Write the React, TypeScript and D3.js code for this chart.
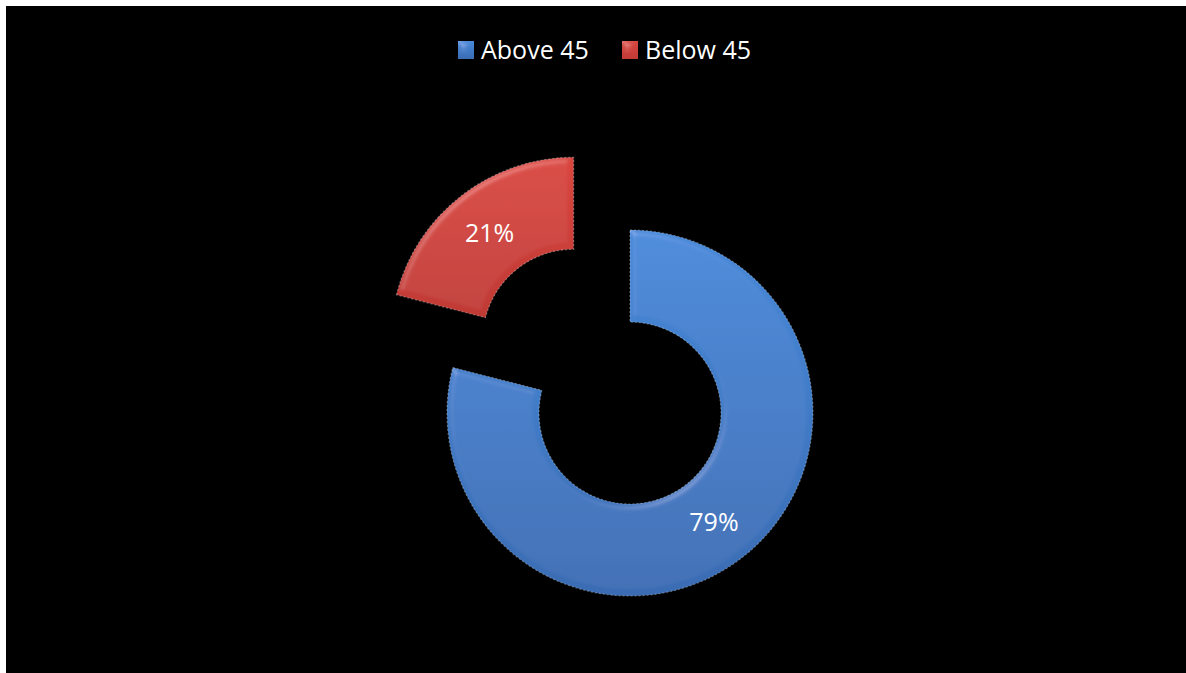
import React from "react";
import * as d3 from "d3";

const categories = ["Above 45", "Below 45"];
const values = [79, 21];
const labels = ["79%", "21%"];
const colorsTop = ["#4789d9", "#d9463f"];
const colorsBottom = ["#3a6cb3", "#c03a35"];
const exploded = [false, true];

const W = 1186;
const H = 673;

export default function App() {
  const cx = 630;
  const cy = 413;
  const outerR = 183;
  const innerR = 91;
  const explodeDist = 92;

  const pie = d3
    .pie<number>()
    .sort(null)
    .value((d) => d)
    .startAngle(0)
    .endAngle(2 * Math.PI);
  const arcs = pie(values);
  const arcGen = d3.arc<d3.PieArcDatum<number>>().innerRadius(innerR).outerRadius(outerR);

  const legendX = d3.scalePoint<string>().domain(categories).range([458, 622]);

  return (
    <div style={{ position: "fixed", left: 0, top: 0, width: W, height: H }}>
      <svg width={W} height={H} style={{ display: "block" }}>
        <defs>
          {categories.map((c, i) => (
            <linearGradient key={c} id={`g${i}`} x1="0" y1="0" x2="0" y2="1">
              <stop offset="0%" stopColor={colorsTop[i]} />
              <stop offset="100%" stopColor={colorsBottom[i]} />
            </linearGradient>
          ))}
          <filter id="bevel" x="-10%" y="-10%" width="120%" height="120%">
            <feGaussianBlur in="SourceAlpha" stdDeviation="3" result="blur" />
            <feSpecularLighting
              in="blur"
              surfaceScale="3"
              specularConstant="0.4"
              specularExponent="25"
              lightingColor="#ffffff"
              result="spec"
            >
              <feDistantLight azimuth="235" elevation="45" />
            </feSpecularLighting>
            <feComposite in="spec" in2="SourceAlpha" operator="in" result="specIn" />
            <feComposite in="SourceGraphic" in2="specIn" operator="arithmetic" k1="0" k2="1" k3="0.3" k4="0" />
          </filter>
        </defs>
        <rect x={0} y={0} width={W} height={H} fill="#ffffff" />
        <rect x={6} y={6} width={W - 6} height={H - 6} fill="#000000" />

        {/* legend */}
        {categories.map((c, i) => (
          <g key={c} transform={`translate(${legendX(c)},0)`}>
            <rect x={0} y={41} width={16} height={18} fill={`url(#g${i})`} filter="url(#bevel)" />
            <text
              x={23}
              y={59}
              fill="#ffffff"
              fontFamily="'Open Sans', sans-serif"
              fontSize={25}
            >
              {c}
            </text>
          </g>
        ))}

        {/* donut */}
        {arcs.map((a, i) => {
          const mid = (a.startAngle + a.endAngle) / 2;
          const dx = exploded[i] ? Math.sin(mid) * explodeDist : 0;
          const dy = exploded[i] ? -Math.cos(mid) * explodeDist : 0;
          const [lx, ly] = arcGen.centroid(a);
          return (
            <g key={categories[i]} transform={`translate(${cx + dx},${cy + dy})`}>
              <path
                d={arcGen(a) || ""}
                fill={`url(#g${i})`}
                filter="url(#bevel)"
                stroke="#b8c0c8"
                strokeOpacity={0.45}
                strokeWidth={1.2}
                strokeDasharray="2,2"
              />
              <text
                x={lx}
                y={ly}
                fill="#ffffff"
                fontFamily="'Open Sans', sans-serif"
                fontSize={25}
                textAnchor="middle"
                dominantBaseline="central"
              >
                {labels[i]}
              </text>
            </g>
          );
        })}
      </svg>
    </div>
  );
}
